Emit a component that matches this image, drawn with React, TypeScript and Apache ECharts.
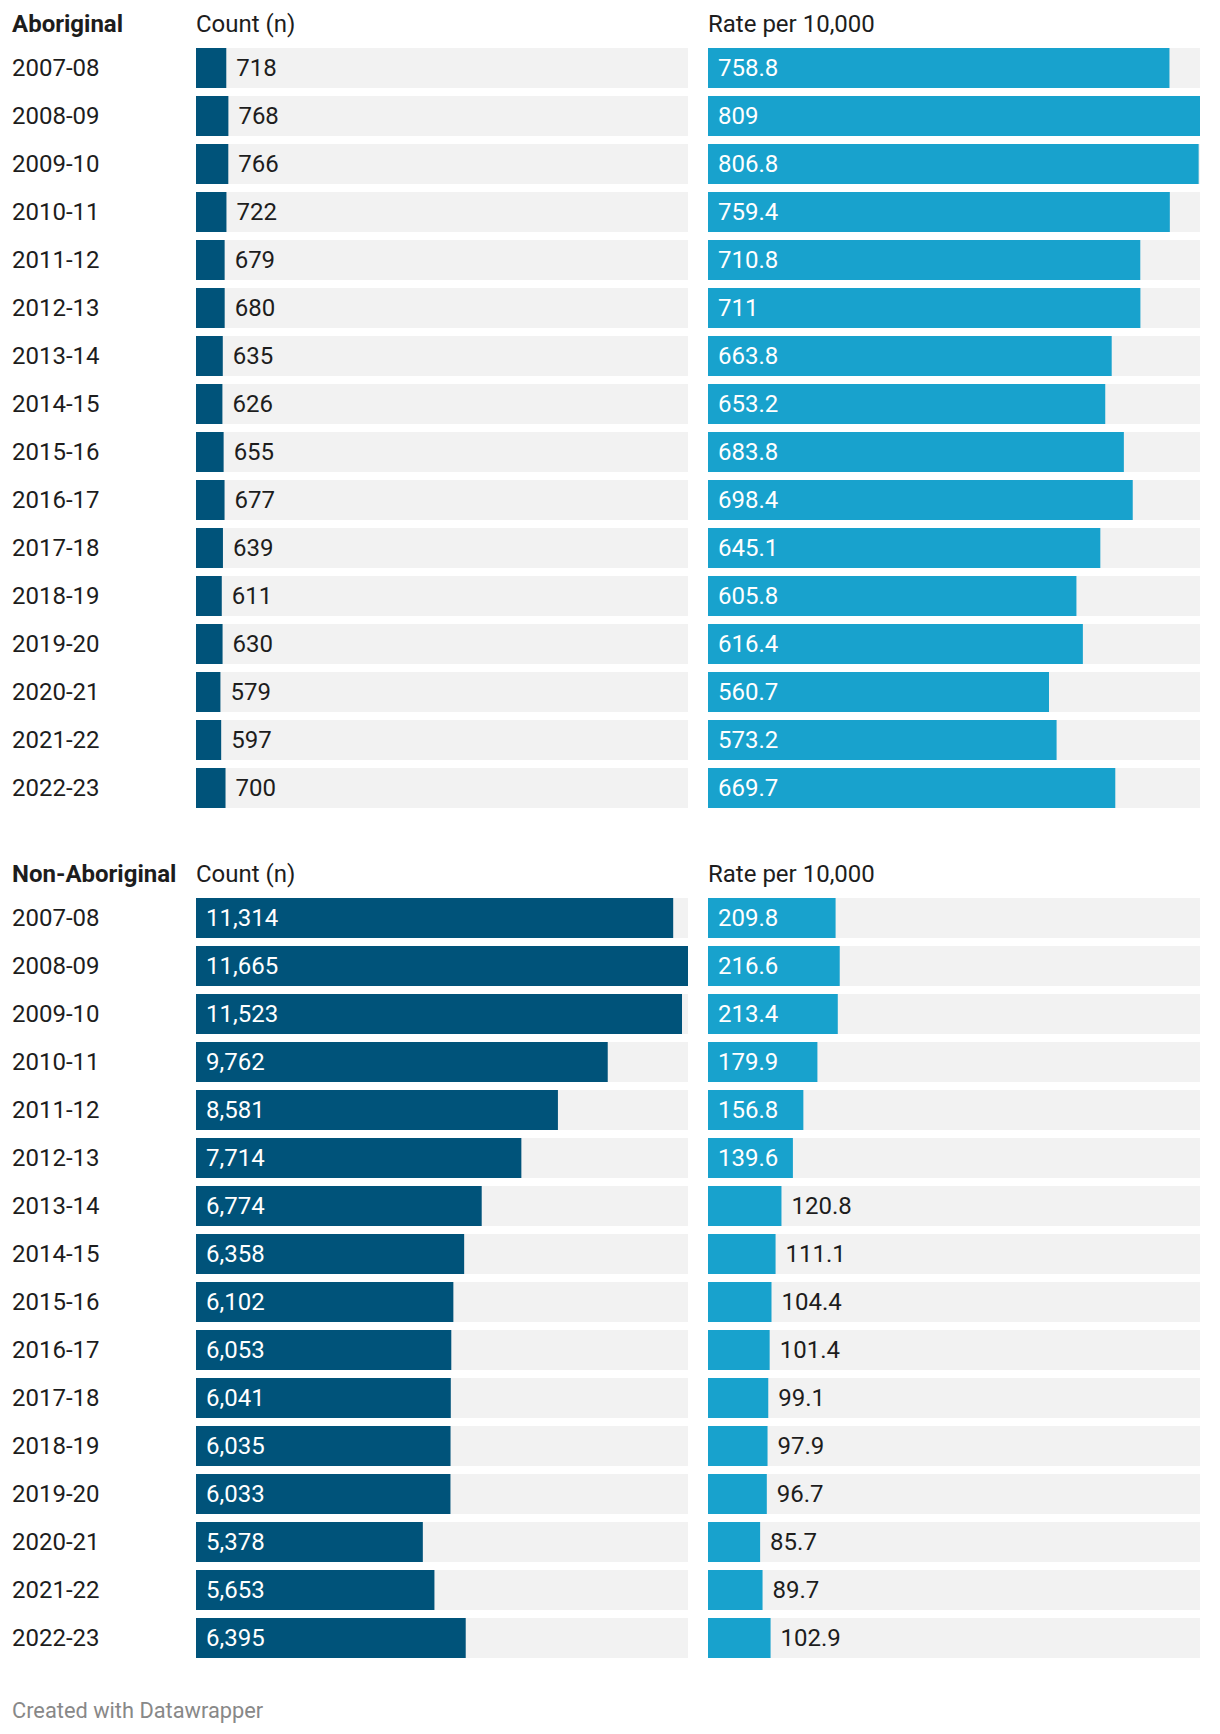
import React, { useEffect, useRef } from "react";
import * as echarts from "echarts";

const years = [
  "2007-08", "2008-09", "2009-10", "2010-11", "2011-12", "2012-13", "2013-14", "2014-15",
  "2015-16", "2016-17", "2017-18", "2018-19", "2019-20", "2020-21", "2021-22", "2022-23",
];
const aboriginalCount = [718, 768, 766, 722, 679, 680, 635, 626, 655, 677, 639, 611, 630, 579, 597, 700];
const aboriginalRate = [758.8, 809, 806.8, 759.4, 710.8, 711, 663.8, 653.2, 683.8, 698.4, 645.1, 605.8, 616.4, 560.7, 573.2, 669.7];
const nonAboriginalCount = [11314, 11665, 11523, 9762, 8581, 7714, 6774, 6358, 6102, 6053, 6041, 6035, 6033, 5378, 5653, 6395];
const nonAboriginalRate = [209.8, 216.6, 213.4, 179.9, 156.8, 139.6, 120.8, 111.1, 104.4, 101.4, 99.1, 97.9, 96.7, 85.7, 89.7, 102.9];

const sectionTitles = ["Aboriginal", "Non-Aboriginal"];
const columnTitles = ["Count (n)", "Rate per 10,000"];
const footerText = "Created with Datawrapper";

const FONT = "Roboto";
const FS = 24;
const TEXT = "#1d1d1d";
const DARK = "#00537a";
const LIGHT = "#18a2cd";
const BG = "#f2f2f2";

const GRID_W = 492;
const COL_LEFT = [196, 708];
const SEC_TOP = [44, 894];
const BAND = 48;
const PAD = 10;

let measureCtx: CanvasRenderingContext2D | null = null;
function textWidth(s: string): number {
  if (!measureCtx) {
    const c = document.createElement("canvas");
    measureCtx = c.getContext("2d");
  }
  if (!measureCtx) return s.length * FS * 0.56;
  measureCtx.font = `${FS}px ${FONT}`;
  return measureCtx.measureText(s).width;
}

const fmtCount = (v: number) => v.toLocaleString("en-US");
const fmtRate = (v: number) => String(v);

export default function App() {
  const ref = useRef<HTMLDivElement>(null);

  useEffect(() => {
    if (!ref.current) return;
    const chart = echarts.init(ref.current, undefined, { renderer: "svg" });

    const countMax = Math.max(...aboriginalCount, ...nonAboriginalCount);
    const rateMax = Math.max(...aboriginalRate, ...nonAboriginalRate);

    const panels = [
      { sec: 0, col: 0, data: aboriginalCount, max: countMax, fmt: fmtCount, color: DARK },
      { sec: 0, col: 1, data: aboriginalRate, max: rateMax, fmt: fmtRate, color: LIGHT },
      { sec: 1, col: 0, data: nonAboriginalCount, max: countMax, fmt: fmtCount, color: DARK },
      { sec: 1, col: 1, data: nonAboriginalRate, max: rateMax, fmt: fmtRate, color: LIGHT },
    ];

    const grids = panels.map((p) => ({
      left: COL_LEFT[p.col],
      width: GRID_W,
      top: SEC_TOP[p.sec],
      height: BAND * years.length,
      containLabel: false,
    }));

    const xAxes = panels.map((p, i) => ({
      type: "value",
      gridIndex: i,
      min: 0,
      max: p.max,
      show: false,
    }));

    const yAxes = panels.map((p, i) => ({
      type: "category",
      gridIndex: i,
      data: years,
      inverse: true,
      axisLine: { show: false },
      axisTick: { show: false },
      splitLine: { show: false },
      axisLabel: {
        show: p.col === 0,
        align: "left",
        margin: COL_LEFT[0] - 12,
        fontFamily: FONT,
        fontSize: FS,
        color: TEXT,
      },
    }));

    const series = panels.map((p, i) => ({
      type: "bar",
      xAxisIndex: i,
      yAxisIndex: i,
      barWidth: 40,
      showBackground: true,
      backgroundStyle: { color: BG },
      itemStyle: { color: p.color },
      data: p.data.map((v) => {
        const txt = p.fmt(v);
        const barPx = (v / p.max) * GRID_W;
        const inside = textWidth(txt) + 2 * PAD <= barPx;
        return {
          value: v,
          label: {
            show: true,
            position: inside ? "insideLeft" : "right",
            distance: PAD,
            color: inside ? "#ffffff" : TEXT,
            fontFamily: FONT,
            fontSize: FS,
            formatter: () => txt,
          },
        };
      }),
    }));

    const graphics: any[] = [];
    sectionTitles.forEach((t, s) => {
      const top = SEC_TOP[s] - 32;
      graphics.push({
        type: "text",
        left: 12,
        top,
        style: { text: t, fontFamily: FONT, fontSize: FS, fontWeight: "bold", fill: TEXT },
      });
      columnTitles.forEach((c, ci) => {
        graphics.push({
          type: "text",
          left: COL_LEFT[ci],
          top,
          style: { text: c, fontFamily: FONT, fontSize: FS, fill: TEXT },
        });
      });
    });
    graphics.push({
      type: "text",
      left: 12,
      top: 1699,
      style: { text: footerText, fontFamily: FONT, fontSize: 21.8, fill: "#888888" },
    });

    chart.setOption({
      animation: false,
      backgroundColor: "#ffffff",
      textStyle: { fontFamily: FONT },
      grid: grids,
      xAxis: xAxes,
      yAxis: yAxes,
      series,
      graphic: graphics,
    } as any);

    return () => chart.dispose();
  }, []);

  return (
    <div
      ref={ref}
      style={{ position: "absolute", left: 0, top: 0, width: 1220, height: 1734 }}
    />
  );
}
